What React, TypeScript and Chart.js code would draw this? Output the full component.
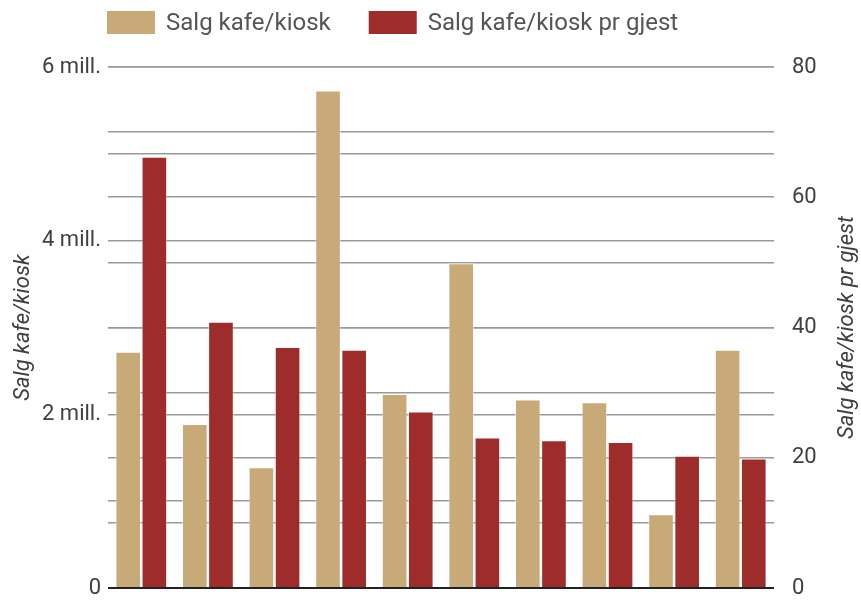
import React, { useEffect, useRef } from "react";
import { Chart, registerables } from "chart.js";

Chart.register(...registerables);

// Ten outlets, no category labels shown on the axis
const outlets = ["1", "2", "3", "4", "5", "6", "7", "8", "9", "10"];

// Kiosk/café sales in NOK (left axis)
const salesTotal = [2720000, 1890000, 1390000, 5730000, 2235000, 3740000, 2170000, 2140000, 850000, 2745000];

// Kiosk/café sales per guest in NOK (right axis)
const salesPerGuest = [66.2, 40.9, 37.0, 36.6, 27.1, 23.1, 22.7, 22.4, 20.3, 19.9];

const seriesNames = ["Salg kafe/kiosk", "Salg kafe/kiosk pr gjest"];
const leftTitle = "Salg kafe/kiosk";
const rightTitle = "Salg kafe/kiosk pr gjest";

const TAN = "#c8aa78";
const RED = "#9d2c2a";
const FONT = "Roboto, 'Noto Sans', sans-serif";
const TEXT = "#404040";
const GRID = "#999999";

const leftLabel = (v: number) => (v === 0 ? "0" : `${v / 1000000} mill.`);

// Legend row across the top, drawn from the datasets
const legendRow = {
  id: "legendRow",
  afterDraw(chart: any) {
    const ctx = chart.ctx;
    ctx.save();
    ctx.font = `24px ${FONT}`;
    ctx.textBaseline = "middle";
    ctx.textAlign = "left";
    let x = 107;
    const top = 11;
    const boxW = 48;
    const boxH = 23;
    chart.data.datasets.forEach((ds: any) => {
      ctx.fillStyle = ds.backgroundColor;
      ctx.fillRect(x, top, boxW, boxH);
      ctx.fillStyle = "#555555";
      ctx.fillText(ds.label, x + boxW + 11, top + boxH / 2 + 1);
      x += boxW + 11 + ctx.measureText(ds.label).width + 38;
    });
    ctx.restore();
  },
};

// Rotated axis titles, both reading bottom to top
const axisTitles = {
  id: "axisTitles",
  afterDraw(chart: any) {
    const ctx = chart.ctx;
    const { top, bottom } = chart.chartArea;
    const cy = (top + bottom) / 2;
    const draw = (text: string, x: number) => {
      ctx.save();
      ctx.font = `italic 22px ${FONT}`;
      ctx.fillStyle = TEXT;
      ctx.textAlign = "center";
      ctx.textBaseline = "middle";
      ctx.translate(x, cy);
      ctx.rotate(-Math.PI / 2);
      ctx.fillText(text, 0, 0);
      ctx.restore();
    };
    draw(leftTitle, 23);
    draw(rightTitle, 847);
  },
};

const gridColor = (c: any) => (c.tick && c.tick.value === 0 ? "#222222" : GRID);
const gridWidth = (c: any) => (c.tick && c.tick.value === 0 ? 2 : 1.6);

// Fixed axis widths; the outer layout padding alone sets the plot height
const fitAxis = (width: number) => (s: any) => {
  s.width = width;
  s.paddingTop = 0;
  s.paddingBottom = 0;
};

export default function App() {
  const ref = useRef<HTMLCanvasElement | null>(null);

  useEffect(() => {
    if (!ref.current) return;
    const chart = new Chart(ref.current, {
      type: "bar",
      data: {
        labels: outlets,
        datasets: [
          {
            label: seriesNames[0],
            data: salesTotal,
            backgroundColor: TAN,
            borderColor: "rgba(255,255,255,0.5)",
            borderWidth: 1,
            yAxisID: "y",
          },
          {
            label: seriesNames[1],
            data: salesPerGuest,
            backgroundColor: RED,
            borderColor: "rgba(255,255,255,0.5)",
            borderWidth: 1,
            yAxisID: "y1",
          },
        ],
      },
      options: {
        responsive: false,
        animation: false,
        layout: { padding: { top: 67, bottom: 13, left: 0, right: 0 } },
        datasets: {
          bar: { categoryPercentage: 0.785, barPercentage: 0.98 },
        },
        plugins: {
          legend: { display: false },
          tooltip: { enabled: false },
        },
        scales: {
          x: { display: false },
          y: {
            position: "left",
            min: 0,
            max: 6000000,
            afterFit: fitAxis(108),
            border: { display: false },
            grid: { color: gridColor, lineWidth: gridWidth, drawTicks: false },
            ticks: {
              stepSize: 1000000,
              autoSkip: false,
              padding: 7,
              color: TEXT,
              font: { family: FONT, size: 22 },
              callback: (v: any) => (Number(v) % 2000000 === 0 ? leftLabel(Number(v)) : ""),
            },
          },
          y1: {
            position: "right",
            min: 0,
            max: 80,
            afterFit: fitAxis(87),
            border: { display: false },
            grid: { color: gridColor, lineWidth: gridWidth, drawTicks: false },
            ticks: {
              stepSize: 10,
              autoSkip: false,
              padding: 18,
              color: TEXT,
              font: { family: FONT, size: 22 },
              callback: (v: any) => (Number(v) % 20 === 0 ? String(v) : ""),
            },
          },
        },
      },
      plugins: [legendRow, axisTitles],
    });
    return () => chart.destroy();
  }, []);

  return (
    <div style={{ position: "absolute", left: 0, top: 0, width: 861, height: 601, background: "#ffffff" }}>
      <canvas ref={ref} width={861} height={601} style={{ display: "block" }} />
    </div>
  );
}
